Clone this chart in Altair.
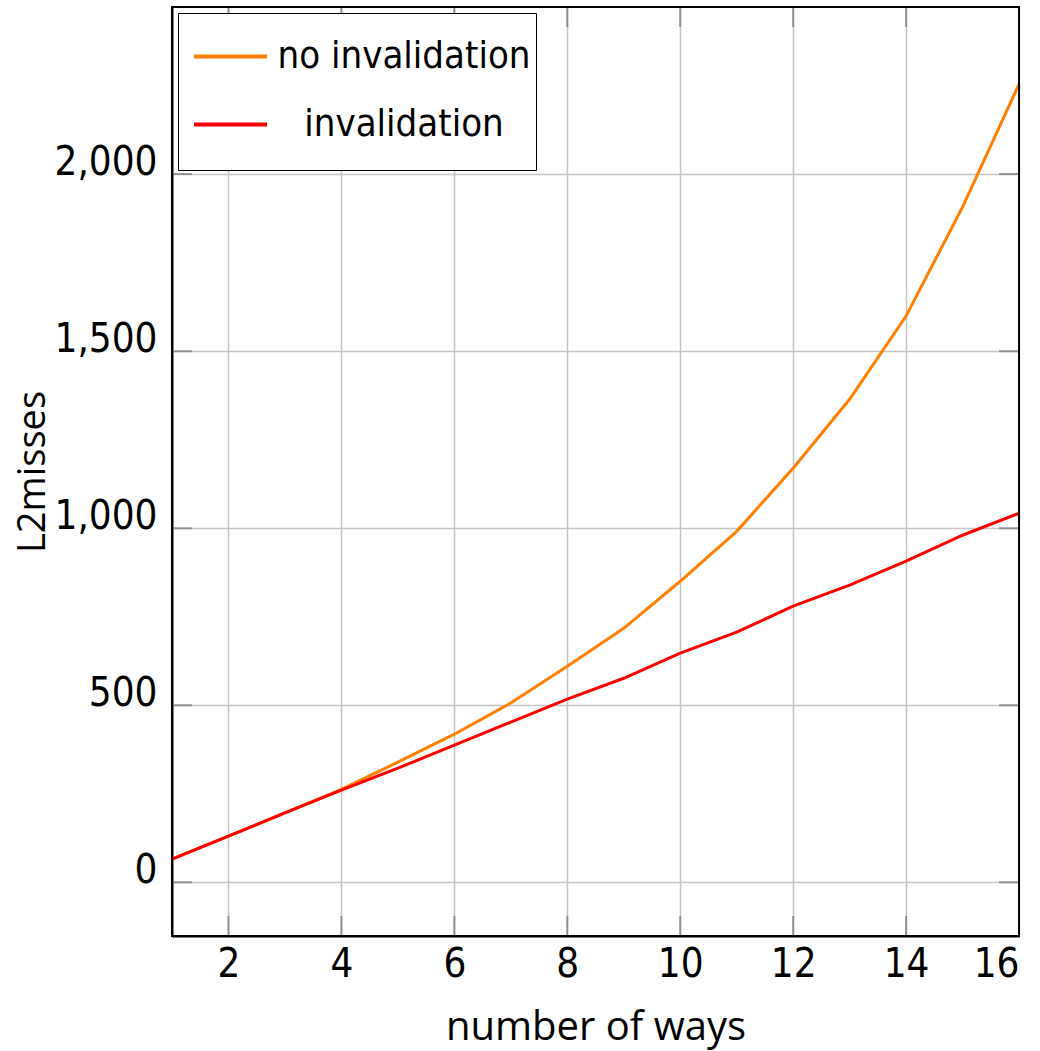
import altair as alt
import pandas as pd

ways = list(range(1, 17))
no_invalidation = [65, 130, 196, 262, 339, 418, 506, 610, 717, 850, 991, 1169, 1364, 1599, 1907, 2254]
invalidation = [65, 130, 196, 260, 322, 387, 452, 517, 576, 647, 706, 780, 839, 907, 980, 1042]
series_names = ["no invalidation", "invalidation"]
series_colors = ["#ff8000", "#ff0000"]
x_ticks = [2, 4, 6, 8, 10, 12, 14, 16]
y_ticks = [0, 500, 1000, 1500, 2000]

rows = []
for w, a, b in zip(ways, no_invalidation, invalidation):
    rows.append({"ways": w, "misses": a, "series": series_names[0]})
    rows.append({"ways": w, "misses": b, "series": series_names[1]})
df = pd.DataFrame(rows)
xt = pd.DataFrame({"v": x_ticks})
yt = pd.DataFrame({"v": y_ticks})

W, H = 847, 929
xdom = [1, 16]
ydom = [-152, 2472]
NARROW = "Liberation Sans Narrow, DejaVu Sans Condensed, Roboto Condensed, sans-serif"
TITLEF = "Open Sans"

xscale = alt.Scale(domain=xdom, nice=False, zero=False)
yscale = alt.Scale(domain=ydom, nice=False, zero=False)

x_axis = alt.Axis(values=x_ticks, format="d", title="number of ways", ticks=False,
                  domain=True, domainColor="black", domainWidth=2,
                  grid=True, gridColor="#c4c4c4", gridWidth=1.5, labelOverlap=False,
                  labelFont=NARROW, labelFontSize=40, labelColor="black", labelPadding=8,
                  titleFont=TITLEF, titleFontSize=40, titleFontWeight="normal",
                  titleColor="black", titleBaseline="alphabetic", titleY=103)
y_axis = alt.Axis(values=y_ticks, title="L2misses", format=",d", ticks=False,
                  domain=True, domainColor="black", domainWidth=2,
                  grid=True, gridColor="#c4c4c4", gridWidth=1.5, labelOverlap=False,
                  labelFont=NARROW, labelFontSize=40, labelColor="black", labelPadding=15,
                  labelBaseline="alphabetic",
                  titleFont=TITLEF, titleFontSize=38, titleFontWeight="normal",
                  titleColor="black", titleX=-120)

lines = alt.Chart(df).mark_line(strokeWidth=3, clip=True).encode(
    x=alt.X("ways:Q", scale=xscale, axis=x_axis),
    y=alt.Y("misses:Q", scale=yscale, axis=y_axis),
    color=alt.Color("series:N",
                    scale=alt.Scale(domain=series_names, range=series_colors),
                    sort=series_names,
                    legend=alt.Legend(title=" ", titleOrient="bottom", titleFontSize=12,
                                      titlePadding=10,
                                      orient="none", legendX=6, legendY=6,
                                      fillColor="white", strokeColor="black",
                                      padding=5, rowPadding=10,
                                      symbolType="stroke", symbolSize=5329, symbolStrokeWidth=4,
                                      symbolOffset=9,
                                      labelFont=NARROW, labelFontSize=38, labelColor="black",
                                      labelAlign="center", labelOffset=135, labelLimit=400)),
)

tick_style = dict(color="#777777", thickness=2, size=40, clip=True)
bottom = alt.Chart(xt).mark_tick(**tick_style).encode(
    x=alt.X("v:Q", scale=xscale, axis=x_axis), y=alt.value(H))
top = alt.Chart(xt).mark_tick(**tick_style).encode(
    x=alt.X("v:Q", scale=xscale, axis=x_axis), y=alt.value(0))
left = alt.Chart(yt).mark_tick(**tick_style).encode(
    y=alt.Y("v:Q", scale=yscale, axis=y_axis), x=alt.value(0))
right = alt.Chart(yt).mark_tick(**tick_style).encode(
    y=alt.Y("v:Q", scale=yscale, axis=y_axis), x=alt.value(W))

frame = alt.Chart(pd.DataFrame({"f": [0]})).mark_rect(
    fill=None, stroke="black", strokeWidth=2
).encode(x=alt.value(0), x2=alt.value(W), y=alt.value(0), y2=alt.value(H))

chart = alt.layer(lines, bottom, top, left, right, frame).properties(
    width=W, height=H,
    autosize=alt.AutoSizeParams(type="none"),
    padding={"left": 172, "top": 7, "right": 21, "bottom": 115},
).configure_legend(strokeWidth=2).configure_view(stroke=None).configure(background="white")

chart.save("out.html", embed_options={"renderer": "svg", "actions": False})
